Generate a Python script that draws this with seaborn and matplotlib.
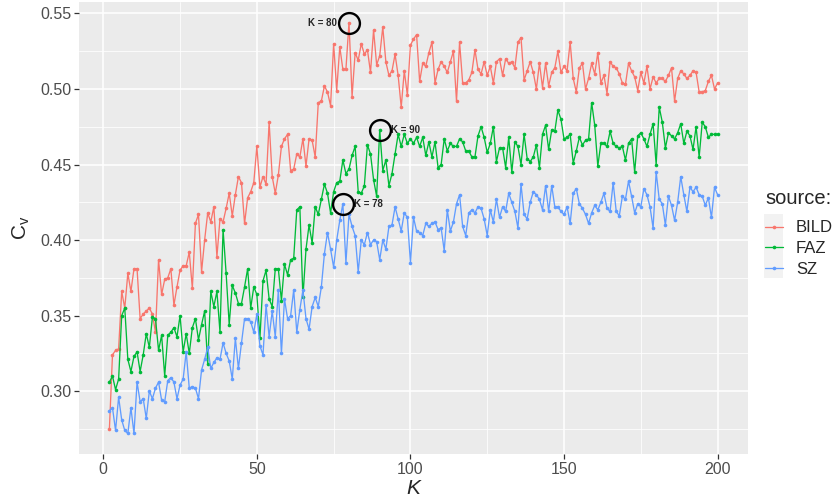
import numpy as np
import pandas as pd
import seaborn as sns
import matplotlib.pyplot as plt
from matplotlib.lines import Line2D
from matplotlib.patches import Rectangle

K = list(range(2, 201))

bild = [0.275, 0.324, 0.327, 0.328, 0.366, 0.355, 0.378, 0.366, 0.381, 0.381,
        0.348, 0.351, 0.353, 0.355, 0.351, 0.339, 0.387, 0.364, 0.374, 0.375,
        0.381, 0.357, 0.369, 0.380, 0.383, 0.383, 0.392, 0.368, 0.411, 0.417,
        0.379, 0.400, 0.418, 0.412, 0.422, 0.389, 0.414, 0.412, 0.421, 0.431,
        0.416, 0.430, 0.442, 0.438, 0.411, 0.428, 0.432, 0.438, 0.462, 0.435,
        0.442, 0.437, 0.478, 0.442, 0.431, 0.443, 0.462, 0.467, 0.470, 0.446,
        0.447, 0.457, 0.455, 0.467, 0.449, 0.467, 0.466, 0.455, 0.491, 0.492,
        0.502, 0.498, 0.489, 0.530, 0.499, 0.528, 0.513, 0.513, 0.544, 0.495,
        0.524, 0.519, 0.530, 0.523, 0.526, 0.511, 0.539, 0.516, 0.522, 0.541,
        0.518, 0.509, 0.512, 0.523, 0.509, 0.488, 0.512, 0.496, 0.529, 0.533,
        0.536, 0.505, 0.517, 0.515, 0.524, 0.531, 0.504, 0.513, 0.518, 0.515,
        0.511, 0.518, 0.525, 0.492, 0.531, 0.504, 0.504, 0.506, 0.511, 0.526,
        0.513, 0.510, 0.518, 0.509, 0.515, 0.504, 0.518, 0.520, 0.509, 0.520,
        0.517, 0.518, 0.514, 0.531, 0.534, 0.506, 0.512, 0.518, 0.511, 0.500,
        0.517, 0.501, 0.517, 0.502, 0.511, 0.514, 0.525, 0.511, 0.515, 0.512,
        0.531, 0.507, 0.498, 0.514, 0.517, 0.500, 0.507, 0.517, 0.510, 0.524,
        0.504, 0.509, 0.497, 0.518, 0.515, 0.514, 0.510, 0.504, 0.503, 0.517,
        0.512, 0.508, 0.499, 0.511, 0.504, 0.515, 0.500, 0.508, 0.504, 0.507,
        0.507, 0.505, 0.509, 0.514, 0.492, 0.507, 0.512, 0.510, 0.507, 0.509,
        0.512, 0.511, 0.498, 0.498, 0.499, 0.505, 0.509, 0.500, 0.504]

faz = [0.306, 0.310, 0.301, 0.308, 0.350, 0.355, 0.321, 0.313, 0.323, 0.326,
       0.313, 0.324, 0.338, 0.329, 0.349, 0.348, 0.327, 0.337, 0.310, 0.337,
       0.339, 0.342, 0.336, 0.350, 0.326, 0.338, 0.325, 0.342, 0.348, 0.334,
       0.344, 0.353, 0.318, 0.366, 0.356, 0.366, 0.339, 0.407, 0.378, 0.344,
       0.370, 0.365, 0.358, 0.358, 0.369, 0.381, 0.355, 0.369, 0.364, 0.335,
       0.373, 0.380, 0.361, 0.356, 0.381, 0.381, 0.360, 0.384, 0.377, 0.387,
       0.388, 0.420, 0.422, 0.362, 0.394, 0.410, 0.398, 0.422, 0.417, 0.427,
       0.437, 0.431, 0.418, 0.432, 0.438, 0.439, 0.453, 0.444, 0.447, 0.456,
       0.462, 0.432, 0.431, 0.436, 0.463, 0.457, 0.440, 0.429, 0.473, 0.446,
       0.453, 0.436, 0.444, 0.457, 0.470, 0.462, 0.470, 0.464, 0.467, 0.464,
       0.468, 0.462, 0.468, 0.456, 0.465, 0.455, 0.465, 0.448, 0.450, 0.467,
       0.459, 0.464, 0.462, 0.462, 0.467, 0.465, 0.459, 0.459, 0.455, 0.455,
       0.469, 0.475, 0.468, 0.458, 0.464, 0.475, 0.452, 0.461, 0.461, 0.448,
       0.468, 0.445, 0.465, 0.462, 0.450, 0.470, 0.454, 0.452, 0.455, 0.463,
       0.448, 0.470, 0.476, 0.460, 0.473, 0.472, 0.486, 0.480, 0.467, 0.468,
       0.470, 0.451, 0.459, 0.468, 0.463, 0.466, 0.467, 0.491, 0.476, 0.449,
       0.464, 0.464, 0.462, 0.472, 0.464, 0.462, 0.461, 0.462, 0.453, 0.464,
       0.467, 0.445, 0.469, 0.471, 0.467, 0.462, 0.470, 0.477, 0.450, 0.488,
       0.478, 0.461, 0.471, 0.469, 0.467, 0.471, 0.477, 0.464, 0.472, 0.469,
       0.460, 0.475, 0.455, 0.478, 0.475, 0.468, 0.470, 0.470, 0.470]

sz = [0.287, 0.289, 0.274, 0.296, 0.281, 0.274, 0.272, 0.289, 0.272, 0.306,
      0.293, 0.295, 0.282, 0.300, 0.295, 0.302, 0.306, 0.294, 0.293, 0.307,
      0.309, 0.306, 0.295, 0.304, 0.308, 0.326, 0.302, 0.303, 0.302, 0.295,
      0.314, 0.321, 0.329, 0.315, 0.319, 0.322, 0.321, 0.332, 0.325, 0.320,
      0.308, 0.335, 0.315, 0.332, 0.348, 0.348, 0.346, 0.339, 0.351, 0.330,
      0.324, 0.357, 0.336, 0.353, 0.336, 0.367, 0.325, 0.361, 0.348, 0.350,
      0.367, 0.339, 0.354, 0.367, 0.348, 0.341, 0.356, 0.362, 0.356, 0.369,
      0.391, 0.405, 0.394, 0.382, 0.400, 0.413, 0.424, 0.385, 0.417, 0.409,
      0.403, 0.379, 0.400, 0.397, 0.405, 0.397, 0.400, 0.399, 0.387, 0.400,
      0.394, 0.409, 0.410, 0.422, 0.414, 0.406, 0.418, 0.415, 0.385, 0.415,
      0.406, 0.405, 0.403, 0.411, 0.409, 0.411, 0.412, 0.407, 0.408, 0.393,
      0.420, 0.406, 0.412, 0.424, 0.430, 0.409, 0.403, 0.418, 0.420, 0.418,
      0.422, 0.421, 0.414, 0.403, 0.420, 0.412, 0.427, 0.415, 0.422, 0.419,
      0.431, 0.425, 0.419, 0.408, 0.437, 0.417, 0.414, 0.425, 0.432, 0.430,
      0.427, 0.420, 0.436, 0.419, 0.436, 0.422, 0.422, 0.419, 0.417, 0.422,
      0.411, 0.431, 0.434, 0.424, 0.421, 0.417, 0.411, 0.418, 0.423, 0.420,
      0.425, 0.431, 0.421, 0.419, 0.438, 0.419, 0.416, 0.429, 0.427, 0.439,
      0.429, 0.418, 0.424, 0.422, 0.434, 0.430, 0.422, 0.408, 0.445, 0.427,
      0.424, 0.410, 0.429, 0.423, 0.413, 0.425, 0.442, 0.430, 0.419, 0.435,
      0.432, 0.435, 0.430, 0.429, 0.423, 0.428, 0.415, 0.435, 0.430]

sources = ['BILD', 'FAZ', 'SZ']
colors = ['#F8766D', '#00BA38', '#619CFF']
# highlighted K per source: (source, K, label side)
marks = [('BILD', 80, 'left'), ('FAZ', 90, 'right'), ('SZ', 78, 'right')]

df = pd.concat([pd.DataFrame({'K': K, 'cv': vals, 'source': s})
                for s, vals in zip(sources, [bild, faz, sz])])

sns.set_theme(style='darkgrid')
plt.rcParams['font.family'] = ['Liberation Sans', 'DejaVu Sans']

fig = plt.figure(figsize=(8.35, 5.01), dpi=100)
ax = fig.add_axes([79 / 835, 1 - 454 / 501, (748 - 79) / 835, (454 - 2) / 501])
ax.set_facecolor('#EBEBEB')

sns.lineplot(data=df, x='K', y='cv', hue='source', hue_order=sources,
             palette=colors, estimator=None, sort=False, legend=False,
             marker='o', markersize=2.6, markeredgewidth=0, linewidth=0.95, ax=ax)

# circles + labels
for s, k, side in marks:
    v = df[(df.source == s) & (df.K == k)].cv.iloc[0]
    ax.plot([k], [v], marker='o', markersize=15, mfc='none', mec='black',
            mew=1.7, zorder=5)
    if side == 'left':
        ax.annotate('K = %d' % k, (k, v), xytext=(-9, 0), textcoords='offset points',
                    ha='right', va='center', fontsize=7, fontweight='bold')
    else:
        ax.annotate('K = %d' % k, (k, v), xytext=(8, 0), textcoords='offset points',
                    ha='left', va='center', fontsize=7, fontweight='bold')

# ggplot-like expansion
allv = bild + faz + sz
lo, hi = min(allv), max(allv)
ax.set_ylim(lo - 0.05 * (hi - lo), hi + 0.05 * (hi - lo))
ax.set_xlim(2 - 0.05 * 198, 200 + 0.05 * 198)

ax.set_xticks([0, 50, 100, 150, 200])
ax.set_xticks([25, 75, 125, 175], minor=True)
ax.set_yticks([0.30, 0.35, 0.40, 0.45, 0.50, 0.55])
ax.set_yticks([0.275, 0.325, 0.375, 0.425, 0.475, 0.525], minor=True)
ax.set_yticklabels(['0.30', '0.35', '0.40', '0.45', '0.50', '0.55'])
ax.grid(which='major', color='white', linewidth=1.1)
ax.grid(which='minor', color='white', linewidth=0.55)
ax.tick_params(axis='both', which='major', labelsize=11.5, labelcolor='#4D4D4D',
               color='#333333', length=3.5, width=0.9, pad=2, bottom=True, left=True)
ax.tick_params(which='minor', length=0)
for sp in ax.spines.values():
    sp.set_visible(False)

ax.set_xlabel('K', fontsize=15, style='italic', labelpad=2)
ax.set_ylabel(r'C$_\mathregular{v}$', fontsize=15, labelpad=6)

# legend keys background (ggplot grey95)
fig.patches.append(Rectangle((764 / 835, 1 - 278 / 501), 19 / 835, 64 / 501,
                             transform=fig.transFigure, facecolor='#F2F2F2',
                             edgecolor='none', zorder=0))

handles = [Line2D([], [], color=c, marker='o', markersize=2.6, markeredgewidth=0,
                  linewidth=0.95) for c in colors]
leg = fig.legend(handles, sources, loc='upper left',
                 bbox_to_anchor=(765 / 835, 1 - 189 / 501),
                 frameon=False, title='source:', fontsize=12, title_fontsize=14.5,
                 handlelength=1.1, handletextpad=0.75, labelspacing=0.35,
                 borderpad=0, borderaxespad=0)
leg._legend_box.align = 'left'
leg._legend_box.sep = 9

fig.savefig('out.png', dpi=100)
